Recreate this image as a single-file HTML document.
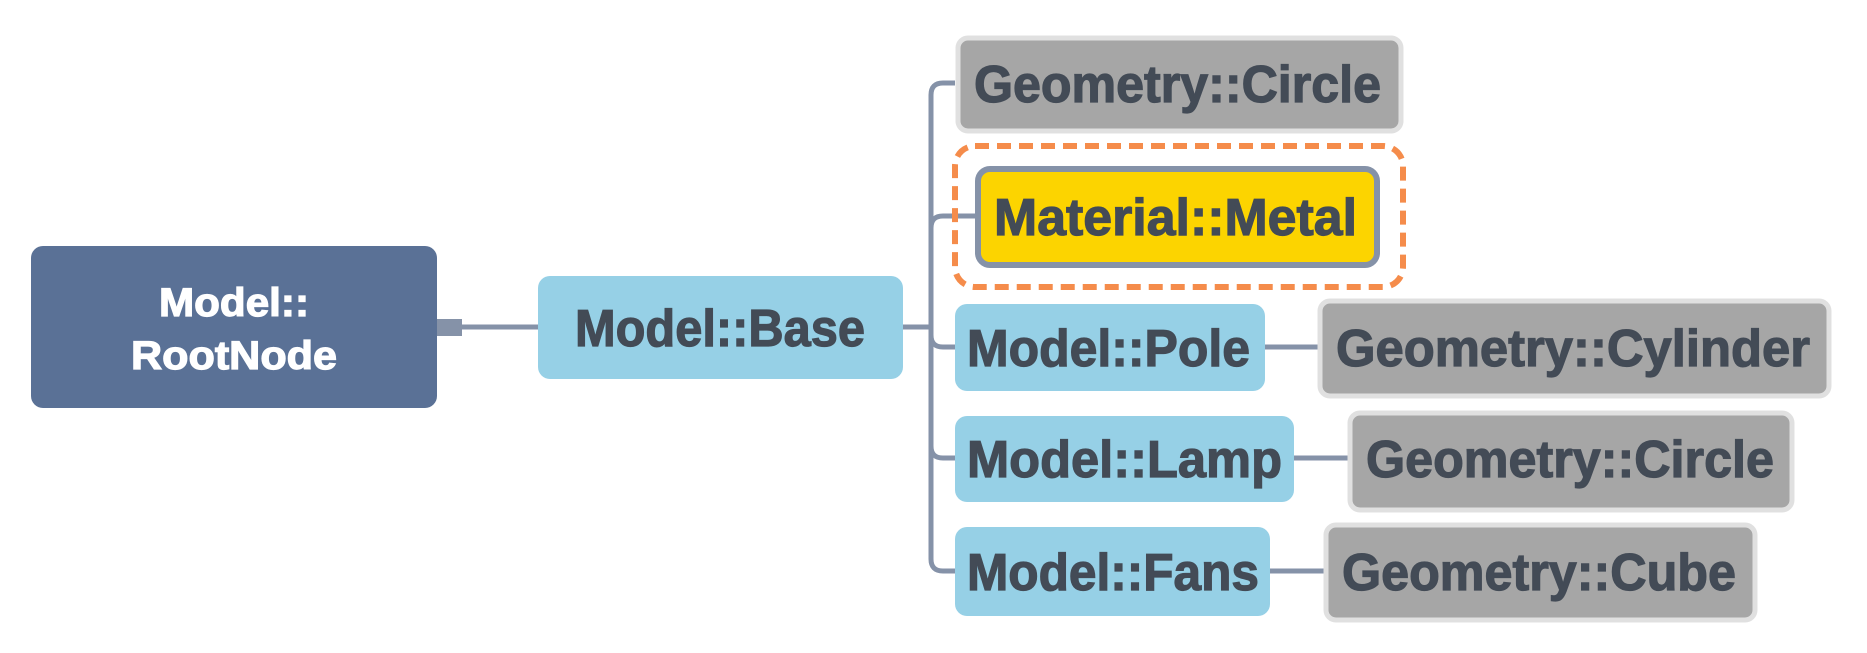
<!DOCTYPE html>
<html><head><style>html,body{margin:0;padding:0;background:#fff;}svg{display:block;}</style></head>
<body>
<svg width="1867" height="653" viewBox="0 0 1867 653" xmlns="http://www.w3.org/2000/svg">
<g font-family="Liberation Sans, sans-serif" font-weight="bold">
<g stroke="#8592a8" stroke-width="5" fill="none">
<line x1="462" y1="327" x2="538" y2="327"/>
<line x1="903" y1="327" x2="931" y2="327"/>
<path d="M955 83 H943 Q931 83 931 95 V559 Q931 571 943 571 H955"/>
<path d="M931 228 Q931 216 943 216 H976"/>
<path d="M931 335 Q931 347 943 347 H955"/>
<path d="M931 446 Q931 458 943 458 H955"/>
<line x1="1265" y1="347" x2="1319" y2="347"/>
<line x1="1294" y1="458" x2="1349" y2="458"/>
<line x1="1270" y1="571" x2="1325" y2="571"/>
</g>
<rect x="437" y="319" width="25" height="17" fill="#8592a8"/>
<rect x="31" y="246" width="406" height="162" rx="12" fill="#5a7196"/>
<g fill="#fff" stroke="#fff" stroke-width="1.2" font-size="40">
<text x="234" y="316" text-anchor="middle" textLength="150" lengthAdjust="spacingAndGlyphs">Model::</text>
<text x="234" y="369" text-anchor="middle" textLength="206" lengthAdjust="spacingAndGlyphs">RootNode</text>
</g>
<rect x="538" y="276" width="365" height="103" rx="12" fill="#96d0e6"/>
<rect x="958" y="38" width="443" height="93" rx="10" fill="#a6a6a6" stroke="#e0e0e0" stroke-width="5"/>
<rect x="955" y="146" width="448" height="141" rx="20" fill="none" stroke="#f58c4b" stroke-width="6" stroke-dasharray="14 8"/>
<rect x="978" y="169" width="399" height="96" rx="12" fill="#fcd400" stroke="#8592a8" stroke-width="6"/>
<rect x="955" y="304" width="310" height="87" rx="12" fill="#96d0e6"/>
<rect x="1320" y="301" width="509" height="95" rx="10" fill="#a6a6a6" stroke="#e0e0e0" stroke-width="5"/>
<rect x="955" y="416" width="339" height="86" rx="12" fill="#96d0e6"/>
<rect x="1350" y="413" width="442" height="97" rx="10" fill="#a6a6a6" stroke="#e0e0e0" stroke-width="5"/>
<rect x="955" y="527" width="315" height="89" rx="12" fill="#96d0e6"/>
<rect x="1326" y="525" width="429" height="95" rx="10" fill="#a6a6a6" stroke="#e0e0e0" stroke-width="5"/>
<g fill="#434b56" stroke="#434b56" stroke-width="1.2" font-size="52">
<text x="575" y="346" textLength="290" lengthAdjust="spacingAndGlyphs">Model::Base</text>
<text x="974" y="102" textLength="407" lengthAdjust="spacingAndGlyphs">Geometry::Circle</text>
<text x="994" y="235" textLength="363" lengthAdjust="spacingAndGlyphs">Material::Metal</text>
<text x="967" y="366" textLength="283" lengthAdjust="spacingAndGlyphs">Model::Pole</text>
<text x="1336" y="366" textLength="474" lengthAdjust="spacingAndGlyphs">Geometry::Cylinder</text>
<text x="967" y="477" textLength="315" lengthAdjust="spacingAndGlyphs">Model::Lamp</text>
<text x="1366" y="477" textLength="408" lengthAdjust="spacingAndGlyphs">Geometry::Circle</text>
<text x="967" y="590" textLength="292" lengthAdjust="spacingAndGlyphs">Model::Fans</text>
<text x="1342" y="590" textLength="394" lengthAdjust="spacingAndGlyphs">Geometry::Cube</text>
</g>
</g>
</svg>
</body></html>
